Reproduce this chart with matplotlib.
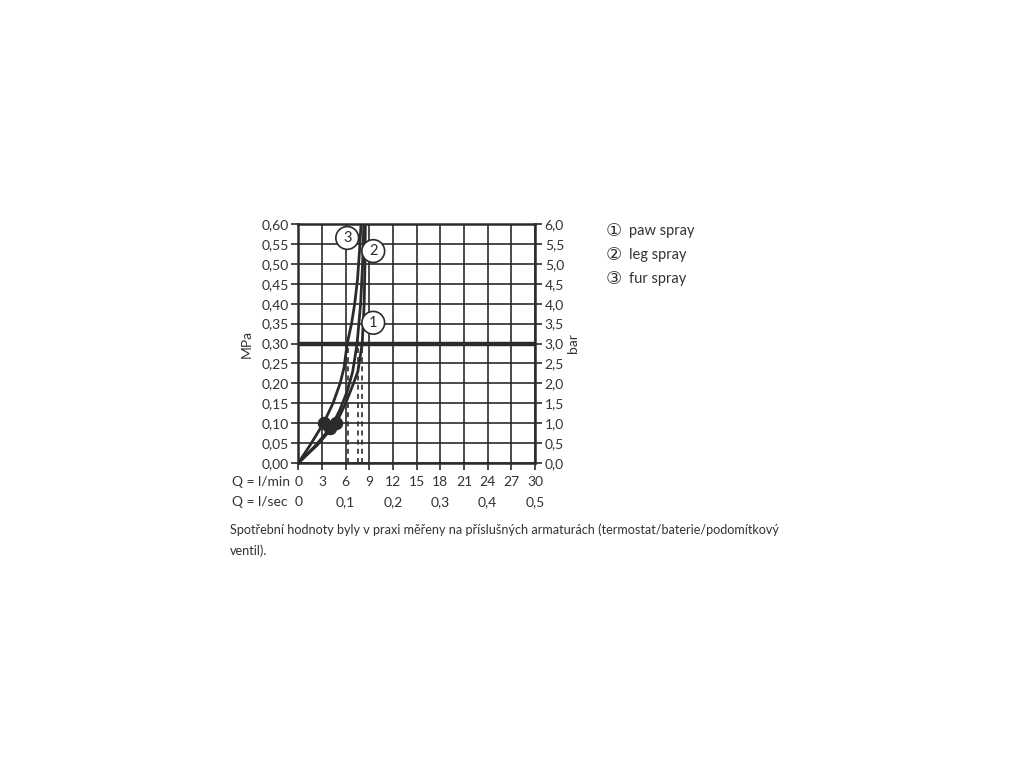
import matplotlib
matplotlib.use("Agg")
import matplotlib.pyplot as plt
from matplotlib.ticker import FuncFormatter

# ---- data ----
q_ticks = [0, 3, 6, 9, 12, 15, 18, 21, 24, 27, 30]
lsec_ticks = [0, 0.1, 0.2, 0.3, 0.4, 0.5]
mpa_ticks = [0.00, 0.05, 0.10, 0.15, 0.20, 0.25, 0.30, 0.35, 0.40, 0.45, 0.50, 0.55, 0.60]
bar_ticks = [0.0, 0.5, 1.0, 1.5, 2.0, 2.5, 3.0, 3.5, 4.0, 4.5, 5.0, 5.5, 6.0]

paw_q = [0, 2.4, 4.8, 6.0, 7.0, 7.55, 8.1, 8.35, 8.45, 8.5]
paw_p = [0, 0.045, 0.10, 0.15, 0.20, 0.23, 0.30, 0.40, 0.50, 0.60]
leg_q = [0, 2.0, 4.05, 5.2, 6.2, 6.9, 7.45, 7.9, 8.15, 8.3]
leg_p = [0, 0.04, 0.087, 0.13, 0.18, 0.23, 0.30, 0.40, 0.50, 0.60]
fur_q = [0, 1.5, 3.2, 4.4, 5.3, 5.8, 6.2, 6.75, 7.15, 7.5, 7.75, 7.95]
fur_p = [0, 0.045, 0.10, 0.15, 0.20, 0.24, 0.30, 0.35, 0.40, 0.46, 0.53, 0.60]

marker_q = [3.2, 4.05, 4.8]
marker_p = [0.10, 0.087, 0.10]

dash_q = [6.25, 7.55, 8.1]
ref_p = 0.30

label_text = ["1", "2", "3"]
label_q = [9.5, 9.5, 6.2]
label_p = [0.352, 0.532, 0.565]

legend_marks = ["①", "②", "③"]
legend_names = ["paw spray", "leg spray", "fur spray"]
footnote = ("Spotřební hodnoty byly v praxi měřeny na příslušných armaturách "
            "(termostat/baterie/podomítkový\nventil).")

# ---- style ----
C = "#2b2b2b"
FONT = ["Lato", "DejaVu Sans"]
plt.rcParams["font.family"] = FONT

fig = plt.figure(figsize=(10.24, 7.68), dpi=100)
ax = fig.add_axes([298.3 / 1024, 1 - 463 / 768, 236.7 / 1024, 239 / 768])

ax.set_xlim(0, 30)
ax.set_ylim(0, 0.60)
ax.set_xticks(q_ticks)
ax.set_yticks(mpa_ticks)
ax.grid(True, color=C, linewidth=1.2)
ax.set_axisbelow(True)
for s in ax.spines.values():
    s.set_color(C)
    s.set_linewidth(1.8)

comma2 = FuncFormatter(lambda v, p: f"{v:.2f}".replace(".", ","))
comma1 = FuncFormatter(lambda v, p: f"{v:.1f}".replace(".", ","))
ax.yaxis.set_major_formatter(comma2)
ax.xaxis.set_major_formatter(FuncFormatter(lambda v, p: f"{int(round(v))}"))
ax.tick_params(axis="both", colors=C, labelcolor="#333333", labelsize=10,
               width=1.2, length=5, direction="out", pad=2)
ax.tick_params(axis="x", pad=4)

# reference line
ax.axhline(ref_p, color=C, linewidth=3.2, zorder=3)

# dashed lines
for q in dash_q:
    ax.plot([q, q], [0, ref_p], color=C, linewidth=1.2, linestyle=(0, (3, 2.5)), zorder=2)

# curves
for qs, ps in [(paw_q, paw_p), (leg_q, leg_p), (fur_q, fur_p)]:
    ax.plot(qs, ps, color=C, linewidth=2.0, zorder=4, solid_capstyle="round")

ax.scatter(marker_q, marker_p, s=75, color=C, zorder=5)

for t, q, p in zip(label_text, label_q, label_p):
    ax.text(q, p, t, ha="center", va="center", fontsize=10.5, color=C, zorder=6,
            bbox=dict(boxstyle="circle,pad=0.3", fc="white", ec=C, lw=1.2))

ax.set_ylabel("MPa", fontsize=10, color="#333333", labelpad=6)

# right axis
ax2 = ax.twinx()
ax2.set_ylim(0, 6.0)
ax2.set_yticks(bar_ticks)
ax2.yaxis.set_major_formatter(comma1)
ax2.tick_params(axis="y", colors=C, labelcolor="#333333", labelsize=10,
                width=1.2, length=5, direction="out", pad=2)
for s in ax2.spines.values():
    s.set_visible(False)
ax2.set_ylabel("bar", fontsize=10, color="#333333", labelpad=2)

# secondary x axis (l/sec)
sec = ax.secondary_xaxis(-0.14, functions=(lambda x: x / 60.0, lambda x: x * 60.0))
sec.set_xticks(lsec_ticks)
sec.xaxis.set_major_formatter(FuncFormatter(
    lambda v, p: "0" if abs(v) < 1e-9 else f"{v:.1f}".replace(".", ",")))
sec.tick_params(axis="x", length=0, labelsize=10, labelcolor="#333333", pad=0)
sec.spines["bottom"].set_visible(False)

fig.text(232 / 1024, 1 - 482 / 768, "Q = l/min", fontsize=10, color="#333333",
         ha="left", va="center")
fig.text(232 / 1024, 1 - 502 / 768, "Q = l/sec", fontsize=10, color="#333333",
         ha="left", va="center")

# legend
for i, (m, name) in enumerate(zip(legend_marks, legend_names)):
    y = 1 - (231 + 24 * i) / 768
    fig.text(606 / 1024, y, m, fontsize=13, color="#333333",
             ha="left", va="center", family=["DejaVu Sans"])
    fig.text(629 / 1024, y, name, fontsize=10.5, color="#333333",
             ha="left", va="center")

fig.text(230 / 1024, 1 - 540 / 768, footnote, fontsize=9.1, color="#333333",
         ha="left", va="center", linespacing=1.75)

fig.savefig("out.png", dpi=100, facecolor="white")
